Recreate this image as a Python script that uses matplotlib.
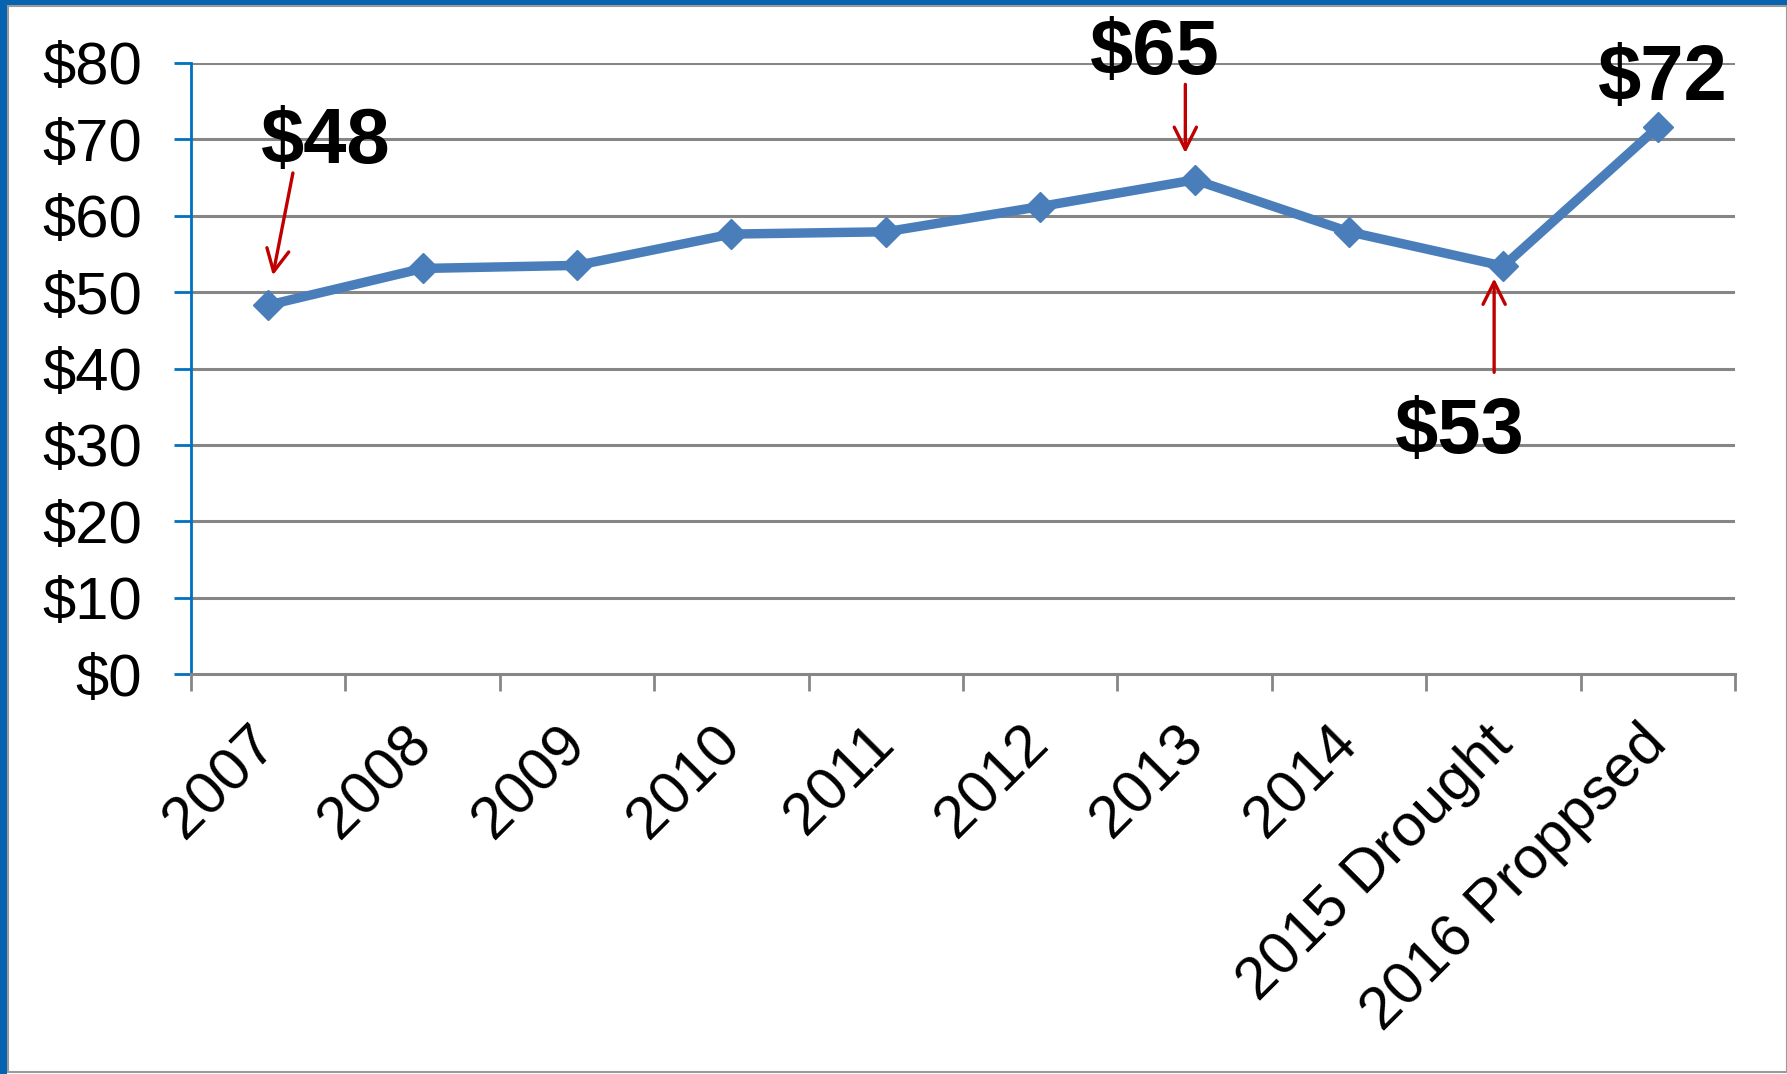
import numpy as np
import matplotlib.pyplot as plt
from matplotlib.patches import Rectangle

plt.rcParams['font.family'] = ['Liberation Sans', 'DejaVu Sans']

categories = ["2007", "2008", "2009", "2010", "2011", "2012", "2013", "2014",
              "2015 Drought", "2016 Proppsed"]
values = [48.3, 53.1, 53.5, 57.6, 57.9, 61.2, 64.7, 57.9, 53.4, 71.6]
y_ticks = [0, 10, 20, 30, 40, 50, 60, 70, 80]

# callouts: text, text position, arrow start, arrow end (data units)
callouts = [
    ("$48", (0.37, 69.6), (0.16, 65.6), (0.03, 52.2)),
    ("$65", (5.74, 81.3), (5.94, 77.2), (5.94, 68.2)),
    ("$72", (9.03, 77.8), None, None),
    ("$53", (7.72, 31.6), (7.94, 39.5), (7.94, 51.8)),
]

W, H = 1787, 1074
fig = plt.figure(figsize=(W / 100, H / 100), dpi=100)
ax = fig.add_axes([191 / W, 1 - 674 / H, (1735 - 191) / W, (674 - 63) / H])

x = np.arange(len(categories))
ax.plot(x, values, color='#4A7EBB', linewidth=6.8, marker='D', markersize=15,
        zorder=3, clip_on=False)

ax.set_xlim(-0.5, len(categories) - 0.5)
ax.set_ylim(0, 80)

# gridlines
ax.set_yticks(y_ticks)
ax.set_yticklabels([f"${v}" for v in y_ticks], fontsize=43)
for v in y_ticks[1:]:
    ax.axhline(v, color='#868686', linewidth=2.2, zorder=1)

ax.set_xticks(np.arange(len(categories) + 1) - 0.5)
ax.set_xticklabels([])
ax.set_xticks(x, minor=True)
ax.set_xticklabels(categories, minor=True, fontsize=43, rotation=45,
                   ha='right', va='center', rotation_mode='anchor')
ax.tick_params(axis='x', which='major', length=12, width=2, color='#868686', direction='out')
ax.tick_params(axis='x', which='minor', length=0, pad=44)
ax.tick_params(axis='y', length=12, width=2, color='#0070C0', pad=23)

for s in ['top', 'right']:
    ax.spines[s].set_visible(False)
ax.spines['left'].set_color('#0070C0')
ax.spines['left'].set_linewidth(2)
ax.spines['bottom'].set_color('#868686')
ax.spines['bottom'].set_linewidth(2.2)

for txt, pos, a_start, a_end in callouts:
    ax.text(pos[0], pos[1], txt, fontsize=56, fontweight='bold', ha='center',
            va='center', clip_on=False, zorder=4)
    if a_start is not None:
        ax.annotate('', xy=a_end, xytext=a_start,
                    arrowprops=dict(arrowstyle='->', color='#C00000', lw=2.4,
                                    mutation_scale=40, shrinkA=0, shrinkB=0),
                    annotation_clip=False)

# slide frame
fig.patches.append(Rectangle((8 / W, 2 / H), 1 - 8 / W, 1 - 8 / H, transform=fig.transFigure,
                             fill=False, edgecolor='#9A9A9A', linewidth=1.5))
fig.patches.append(Rectangle((0, 0), 7 / W, 1, transform=fig.transFigure,
                             facecolor='#0563B0', edgecolor='none'))
fig.patches.append(Rectangle((0, 1 - 5 / H), 1, 5 / H, transform=fig.transFigure,
                             facecolor='#0563B0', edgecolor='none'))

fig.savefig('out.png', dpi=100)
